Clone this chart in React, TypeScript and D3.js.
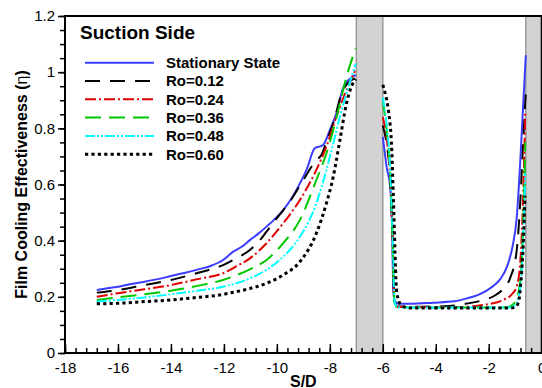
import * as d3 from "d3";
import { useEffect, useRef } from "react";

// axis ticks
const xMajor = [-18, -16, -14, -12, -10, -8, -6, -4, -2, 0];
const yMajor = [0, 0.2, 0.4, 0.6, 0.8, 1, 1.2];
// grey blocks on the S/D axis
const bands = [
	[-7, -6],
	[-0.6, 0],
];

const seriesLabels = [
	"Stationary State",
	"Ro=0.12",
	"Ro=0.24",
	"Ro=0.36",
	"Ro=0.48",
	"Ro=0.60",
];

// [S/D, eta] upstream of first block
const stationaryUp = [
	[-16.8, 0.224], [-16.5, 0.229], [-16, 0.236], [-15.5, 0.246], [-15, 0.254],
	[-14.5, 0.263], [-14, 0.274], [-13.5, 0.285], [-13, 0.297], [-12.5, 0.31],
	[-12.03, 0.331], [-11.65, 0.361], [-11.3, 0.38], [-11.02, 0.402], [-10.7, 0.425],
	[-10.39, 0.45], [-10.1, 0.475], [-9.76, 0.509], [-9.45, 0.55], [-9.13, 0.604],
	[-8.88, 0.652], [-8.57, 0.729], [-8.4, 0.735], [-8.25, 0.741], [-8.0, 0.794],
	[-7.75, 0.854], [-7.5, 0.943], [-7.3, 0.972], [-7.02, 0.99],
];
const ro12Up = [
	[-16.8, 0.215], [-16, 0.224], [-15, 0.242], [-14, 0.26], [-13, 0.285],
	[-12.5, 0.298], [-12.03, 0.313], [-11.65, 0.331], [-11.02, 0.367], [-10.7, 0.395],
	[-10.39, 0.432], [-10, 0.48], [-9.51, 0.539], [-9.0, 0.616], [-8.51, 0.687],
	[-8.32, 0.705], [-8.1, 0.76], [-7.87, 0.819], [-7.5, 0.937], [-7.02, 0.98],
];
const ro24Up = [
	[-16.8, 0.2], [-16, 0.213], [-15, 0.227], [-14, 0.242], [-13, 0.263],
	[-12.03, 0.284], [-11.5, 0.31], [-11.02, 0.337], [-10.39, 0.391], [-9.76, 0.462],
	[-9.13, 0.545], [-8.51, 0.652], [-8.13, 0.735], [-7.75, 0.842], [-7.37, 0.937],
	[-7.02, 1.01],
];
const ro36Up = [
	[-16.8, 0.189], [-16, 0.198], [-15, 0.209], [-14, 0.222], [-13, 0.239],
	[-12.03, 0.26], [-11.5, 0.278], [-11.02, 0.298], [-10.39, 0.331], [-9.76, 0.391],
	[-9.13, 0.474], [-8.51, 0.616], [-8.13, 0.711], [-7.87, 0.794], [-7.62, 0.889],
	[-7.37, 0.984], [-7.02, 1.085],
];
const ro48Up = [
	[-16.8, 0.183], [-16, 0.189], [-15, 0.198], [-14, 0.209], [-13, 0.222],
	[-12.03, 0.236], [-11.02, 0.266], [-10.39, 0.296], [-9.76, 0.343], [-9.13, 0.414],
	[-8.51, 0.533], [-8.13, 0.652], [-7.87, 0.747], [-7.62, 0.842], [-7.37, 0.925],
	[-7.02, 1.03],
];
const ro60Up = [
	[-16.8, 0.175], [-16, 0.177], [-15, 0.183], [-14, 0.189], [-13, 0.198],
	[-12, 0.209], [-11.65, 0.216], [-11, 0.23], [-10.39, 0.248], [-9.76, 0.278],
	[-9.13, 0.325], [-8.51, 0.426], [-8.13, 0.533], [-7.87, 0.628], [-7.62, 0.758],
	[-7.37, 0.889], [-7.18, 0.95], [-7.02, 0.975],
];

// downstream of first block
const stationaryDown = [
	[-6, 0.77], [-5.85, 0.66], [-5.72, 0.59], [-5.65, 0.45], [-5.6, 0.22],
	[-5.55, 0.185], [-5.4, 0.175], [-5.0, 0.175], [-4.1, 0.179], [-3.3, 0.184],
	[-2.8, 0.195], [-2.4, 0.207], [-2.05, 0.224], [-1.75, 0.245], [-1.55, 0.265],
	[-1.3, 0.31], [-1.1, 0.38], [-0.94, 0.485], [-0.82, 0.664], [-0.69, 0.9],
	[-0.6, 1.06],
];
const ro12Down = [
	[-6, 0.81], [-5.85, 0.74], [-5.72, 0.62], [-5.63, 0.4], [-5.57, 0.19],
	[-5.45, 0.166], [-4.5, 0.165], [-3.5, 0.167], [-2.83, 0.176], [-2.3, 0.186],
	[-1.8, 0.203], [-1.5, 0.224], [-1.2, 0.265], [-0.95, 0.36], [-0.82, 0.52],
	[-0.7, 0.75], [-0.6, 0.93],
];
const ro24Down = [
	[-6, 0.84], [-5.85, 0.76], [-5.72, 0.62], [-5.63, 0.4], [-5.57, 0.19],
	[-5.45, 0.164], [-3, 0.164], [-2.2, 0.171], [-1.45, 0.189], [-1.1, 0.212],
	[-0.95, 0.236], [-0.82, 0.31], [-0.72, 0.5], [-0.62, 0.86],
];
const ro36Down = [
	[-6, 0.9], [-5.85, 0.79], [-5.72, 0.64], [-5.63, 0.4], [-5.56, 0.18],
	[-5.45, 0.162], [-1.4, 0.162], [-1.2, 0.166], [-1.0, 0.182], [-0.85, 0.23],
	[-0.75, 0.33], [-0.68, 0.52], [-0.62, 0.75],
];
const ro48Down = [
	[-6, 0.91], [-5.85, 0.81], [-5.72, 0.65], [-5.62, 0.4], [-5.55, 0.18],
	[-5.45, 0.162], [-1.2, 0.162], [-1.0, 0.17], [-0.85, 0.21], [-0.75, 0.3],
	[-0.68, 0.45], [-0.62, 0.64],
];
const ro60Down = [
	[-6, 0.955], [-5.9, 0.92], [-5.79, 0.865], [-5.66, 0.72], [-5.6, 0.55],
	[-5.47, 0.213], [-5.3, 0.17], [-5.0, 0.16], [-1.2, 0.16], [-1.0, 0.164],
	[-0.88, 0.18], [-0.78, 0.26], [-0.7, 0.38], [-0.63, 0.56],
];

const upstream = [stationaryUp, ro12Up, ro24Up, ro36Up, ro48Up, ro60Up];
const downstream = [stationaryDown, ro12Down, ro24Down, ro36Down, ro48Down, ro60Down];

const colors = ["#3c3cff", "#000000", "#e00000", "#00c800", "#00ffff", "#000000"];
const dashes = ["none", "15,10", "11,3,2,3", "16,8", "10,2,2,2,2,2", "3.2,3.2"];
const widths = [2, 2, 2, 2, 2, 3];

export default function App() {
	const svgRef = useRef(null);

	useEffect(() => {
		const W = 542,
			H = 388;
		const font = "'Liberation Sans', Arial, sans-serif";

		const svg = d3
			.select(svgRef.current)
			.attr("width", W)
			.attr("height", H)
			.style("font-family", font);

		const x = d3.scaleLinear().domain([-18, 0]).range([65, 541.7]);
		const y = d3.scaleLinear().domain([0, 1.2]).range([353, 16]);

		// grey blocks
		bands.forEach(([a, b]) => {
			svg.append("rect")
				.attr("x", x(a))
				.attr("y", y(1.2))
				.attr("width", x(b) - x(a))
				.attr("height", y(0) - y(1.2))
				.attr("fill", "#d3d3d3");
			[a, b].forEach((v) => {
				if (v === 0) return;
				svg.append("line")
					.attr("x1", x(v))
					.attr("x2", x(v))
					.attr("y1", y(1.2))
					.attr("y2", y(0))
					.attr("stroke", "#9a9a9a")
					.attr("stroke-width", 1.5);
			});
		});

		const line = d3
			.line()
			.x((d) => x(d[0]))
			.y((d) => y(d[1]))
			.curve(d3.curveMonotoneX);

		upstream.forEach((pts, i) => {
			[pts, downstream[i]].forEach((seg) => {
				svg.append("path")
					.attr("d", line(seg))
					.attr("fill", "none")
					.attr("stroke", colors[i])
					.attr("stroke-width", widths[i])
					.attr("stroke-dasharray", dashes[i]);
			});
		});

		// frame
		svg.append("rect")
			.attr("x", x(-18))
			.attr("y", y(1.2))
			.attr("width", x(0) - x(-18))
			.attr("height", y(0) - y(1.2))
			.attr("fill", "none")
			.attr("stroke", "#000")
			.attr("stroke-width", 2);

		// bottom axis, ticks point inward
		const gxMinor = svg.append("g").attr("transform", `translate(0,${y(0)})`);
		gxMinor.call(
			d3.axisBottom(x).tickValues(d3.range(-18, 0.01, 0.4)).tickSize(-5).tickSizeOuter(0)
				.tickFormat(() => "")
		);
		const gx = svg.append("g").attr("transform", `translate(0,${y(0)})`);
		gx.call(
			d3.axisBottom(x).tickValues(xMajor).tickSize(-9).tickSizeOuter(0).tickPadding(9)
				.tickFormat((d) => String(d))
		);

		// left axis, ticks point outward
		const gyMinor = svg.append("g").attr("transform", `translate(${x(-18)},0)`);
		gyMinor.call(
			d3.axisLeft(y).tickValues(d3.range(0, 1.201, 0.05)).tickSize(5).tickSizeOuter(0)
				.tickFormat(() => "")
		);
		const gy = svg.append("g").attr("transform", `translate(${x(-18)},0)`);
		gy.call(
			d3.axisLeft(y).tickValues(yMajor).tickSize(7).tickSizeOuter(0).tickPadding(3)
				.tickFormat((d) => String(d))
		);

		[gxMinor, gx, gyMinor, gy].forEach((g) => {
			g.selectAll(".domain").remove();
			g.selectAll("line").attr("stroke", "#000").attr("stroke-width", 1.5);
			g.selectAll("text")
				.attr("font-size", 15)
				.attr("font-family", font)
				.attr("fill", "#000");
		});

		// axis titles
		svg.append("text")
			.attr("x", (x(-18) + x(0)) / 2)
			.attr("y", 387)
			.attr("text-anchor", "middle")
			.attr("font-size", 16)
			.attr("font-weight", "bold")
			.text("S/D");

		const yl = svg.append("text")
			.attr("transform", `translate(27,${(y(0) + y(1.2)) / 2}) rotate(-90)`)
			.attr("text-anchor", "middle")
			.attr("font-size", 16)
			.attr("font-weight", "bold");
		yl.append("tspan").text("Film Cooling Effectiveness (");
		yl.append("tspan").attr("font-weight", "normal").text("η");
		yl.append("tspan").text(")");

		// legend
		svg.append("text")
			.attr("x", 80)
			.attr("y", 39)
			.attr("font-size", 19)
			.attr("font-weight", "bold")
			.text("Suction Side");

		seriesLabels.forEach((lab, i) => {
			const ly = 62.7 + i * 18.3;
			svg.append("line")
				.attr("x1", 85)
				.attr("x2", 154)
				.attr("y1", ly)
				.attr("y2", ly)
				.attr("stroke", colors[i])
				.attr("stroke-width", widths[i])
				.attr("stroke-dasharray", dashes[i]);
			svg.append("text")
				.attr("x", 166)
				.attr("y", ly)
				.attr("dy", "0.36em")
				.attr("font-size", 15)
				.attr("font-weight", "bold")
				.text(lab);
		});

		return () => {
			d3.select(svgRef.current).selectAll("*").remove();
		};
	}, []);

	return (
		<div style={{ position: "absolute", left: 0, top: 0 }}>
			<svg ref={svgRef} style={{ display: "block" }} />
		</div>
	);
}
